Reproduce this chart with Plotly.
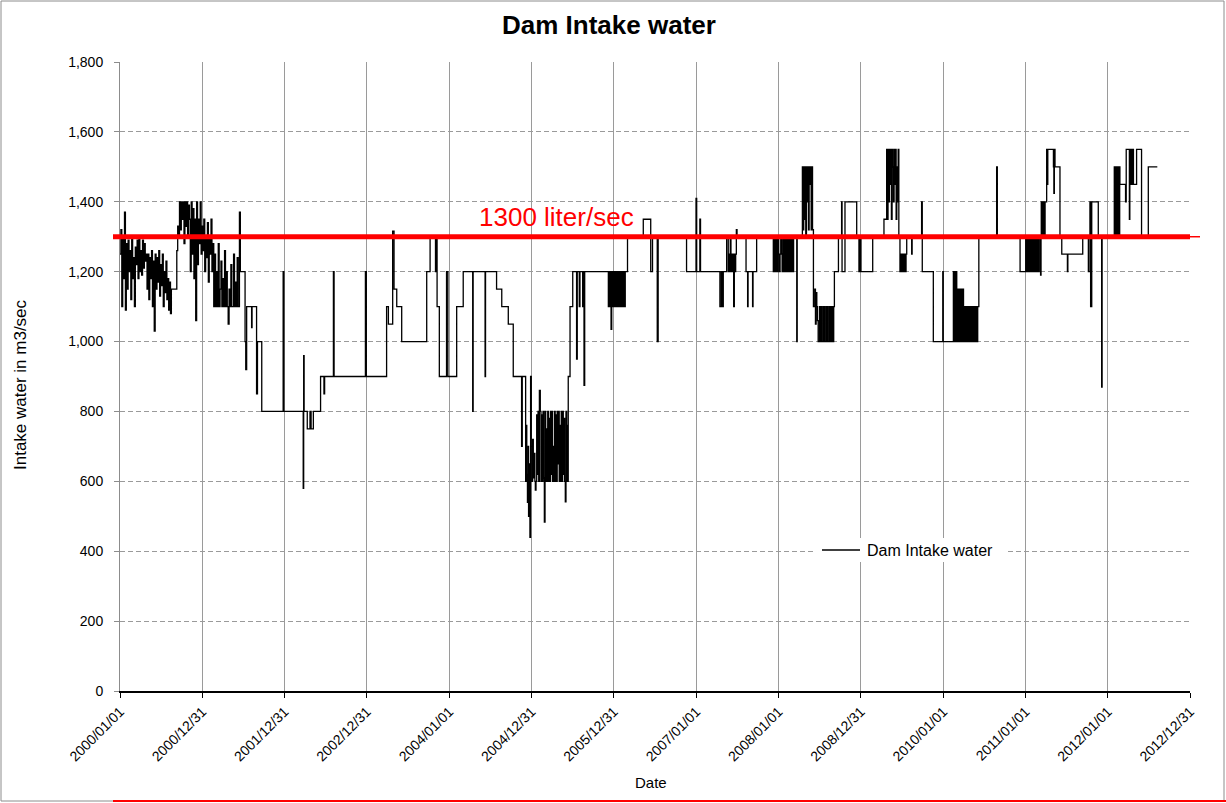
import plotly.graph_objects as go
import pandas as pd

start_date = "2000-01-01"
series_name = "Dam Intake water"
threshold_value = 1300
threshold_label = "1300 liter/sec"

# ---- stepwise levels: (day offset from start_date, m3/sec) ----
level_days = [228, 530, 534, 555, 558, 562, 584, 586, 606, 610, 629, 724, 727, 813, 815, 817,
              831, 843, 848, 858, 890, 905, 908, 947, 950, 1089, 1093, 1183, 1191, 1210, 1216,
              1228, 1250, 1361, 1376, 1400, 1403, 1407, 1417, 1449, 1455, 1494, 1523, 1565,
              1567, 1620, 1622, 1671, 1694, 1723, 1745,
              1782, 1785, 1800, 1803, 1805, 1808, 1811, 1813, 1816, 1819, 1822, 1825, 1828,
              1831, 1834, 1837, 1841, 1843, 1846, 1849, 1852, 1855, 1858, 1861,
              1989, 1997, 2009, 2026, 2029, 2038, 2041, 2053, 2055, 2059, 2062,
              2245, 2252, 2322, 2355, 2363, 2384, 2388, 2514, 2556, 2559, 2573, 2576, 2662,
              2668, 2672, 2677, 2692,
              2738, 2778, 2785, 2787, 2807, 2809, 2825,
              2992, 3003, 3005, 3077,
              3170, 3188, 3202, 3204, 3217, 3269, 3279, 3281, 3283, 3285, 3288, 3340, 3390,
              3491, 3513, 3515, 3557, 3560, 3609, 3651, 3653,
              3811, 3890, 3893, 3994,
              4082, 4085, 4087, 4105, 4112, 4115, 4117, 4142, 4144, 4146, 4149, 4171, 4179,
              4204, 4206, 4272, 4297, 4304, 4307, 4312, 4341, 4356, 4358,
              4437, 4462, 4465, 4479, 4481, 4484, 4487, 4490, 4494, 4497, 4511, 4533, 4563, 4603]
level_values = [1150, 1370, 1200, 1000, 920, 1100, 1040, 1100, 850, 1000, 800, 1200, 800, 580, 960, 800,
                750, 800, 750, 800, 900, 850, 900, 1200, 900, 1200, 900, 1100, 1050, 1316, 1150,
                1100, 1000, 1200, 1300, 1200, 1300, 1100, 900, 1200, 900, 1100, 1200, 800,
                1200, 900, 1200, 1150, 1100, 1050, 900,
                700, 900, 600, 760, 620, 540, 700, 500, 650, 440, 900, 700, 600,
                720, 610, 680, 600, 575, 600, 790, 620, 800, 600, 860,
                900, 1100, 1200, 950, 1200, 1100, 1200, 1100, 1200, 875, 1200,
                1200, 1300, 1350, 1200, 1300, 1000, 1300, 1200, 1410, 1200, 1350, 1200, 1100,
                1200, 1100, 1200, 1300,
                1300, 1200, 1100, 1200, 1100, 1200, 1300,
                1300, 1000, 1300, 1100,
                1200, 1300, 1400, 1200, 1400, 1300, 1200, 1300, 1200, 1300, 1200, 1300, 1350,
                1300, 1250, 1300, 1400, 1200, 1000, 1200, 1000,
                1300, 1500, 1300, 1200,
                1300, 1190, 1300, 1400, 1550, 1450, 1550, 1500, 1424, 1550, 1500, 1300, 1250,
                1200, 1250, 1300, 1200, 1400, 1100, 1400, 1300, 870, 1300,
                1450, 1400, 1550, 1350, 1550, 1450, 1550, 1450, 1550, 1450, 1550, 1300, 1500, 1500]

# ---- fluctuating periods: (first day, spacing in days, values) ----
noisy_2000a = [1250, 1320, 1100, 1300, 1180, 1370, 1090, 1280,
               1150, 1290, 1200, 1260, 1120, 1300, 1180, 1240, 1100, 1270, 1220,
               1290, 1180, 1300, 1200, 1260, 1190, 1290, 1210, 1280, 1230, 1250,
               1150, 1250, 1120, 1240, 1180, 1260, 1100, 1230, 1030,
               1250, 1150, 1240, 1170, 1260, 1130, 1220, 1160, 1250, 1100, 1200, 1140, 1230,
               1120, 1180, 1090, 1170, 1080]
noisy_2000b = [1260, 1330, 1300, 1400, 1320, 1400, 1350, 1400, 1280, 1400, 1330, 1400, 1300, 1390, 1350,
               1200, 1400, 1250, 1380, 1180, 1350, 1060, 1400, 1220, 1350, 1280, 1400, 1250,
               1330, 1260, 1350, 1200, 1300, 1240, 1340, 1170, 1300, 1250, 1350, 1200, 1280,
               1100, 1250, 1100, 1200, 1100, 1280, 1100, 1150, 1230, 1100, 1180, 1100, 1260, 1100,
               1200, 1100, 1050, 1150, 1100, 1220, 1100, 1100, 1250, 1100, 1170, 1100, 1240, 1100]
noisy_2005a = [800, 600, 790, 600, 800, 610, 483, 800, 600, 750, 600, 800, 600, 780, 600, 800,
               620, 800, 600, 700, 600, 800, 600, 790, 600, 800, 650, 800, 600, 760, 600, 800,
               600, 800, 620, 780, 600, 541, 800, 600, 760, 600]
noisy_2005b = [1100, 1200, 1100, 1200, 1035, 1200, 1100, 1200, 1100, 1200, 1100, 1200, 1100,
               1200, 1100, 1200, 1100, 1200, 1100, 1200, 1100, 1200, 1100, 1200, 1100, 1200]
noisy_2007a = [1200, 1250, 1200, 1300, 1200, 1250, 1200, 1250, 1100, 1250, 1200, 1250, 1320]
noisy_2008a = [1200, 1300, 1200, 1300, 1200, 1300, 1200, 1300, 1250, 1200, 1250, 1300, 1250, 1200,
               1300, 1200, 1300, 1200, 1300, 1200, 1300, 1200, 1300, 1200, 1300, 1200, 1300,
               1200, 1300, 1200, 1300]
noisy_2008b = [1300, 1500, 1320, 1500, 1350, 1500, 1300, 1500, 1400, 1500, 1320, 1500, 1450,
               1500, 1320, 1500, 1320]
noisy_2008c = [1100, 1150, 1050, 1140, 1100, 1060, 1000, 1000, 1100, 1000, 1100, 1000, 1000, 1100,
               1000, 1100, 1000, 1000, 1100, 1000, 1100, 1000, 1000, 1100, 1000, 1100, 1000,
               1100, 1000, 1100]
noisy_2009a = [1550, 1350, 1550, 1400, 1550, 1450, 1550, 1350, 1550, 1500, 1400, 1550, 1450,
               1550, 1350, 1500, 1400, 1550, 1300]
noisy_2009b = [1200, 1250, 1200, 1250, 1200, 1250, 1200, 1250, 1200, 1250]
noisy_2010a = [1000, 1200, 1000, 1200, 1000, 1200,
               1000, 1150, 1000, 1150, 1000, 1150, 1000, 1150, 1000, 1150,
               1000, 1100, 1000, 1100, 1000, 1100, 1000, 1100, 1000, 1100, 1000, 1100,
               1000, 1100, 1000, 1100, 1000, 1100, 1000, 1100, 1000, 1100, 1100]
noisy_2011a = [1200, 1300, 1200, 1300, 1200, 1300, 1200, 1300, 1200, 1300, 1200,
               1300, 1200, 1300, 1200, 1300, 1200, 1300, 1200, 1300, 1200, 1300]
noisy_2011b = [1400, 1300, 1400, 1300, 1400, 1300]
noisy_2012a = [1500, 1300, 1500, 1300, 1500, 1300, 1500, 1300, 1500]

noisy_periods = [
    (0, 4, noisy_2000a), (252, 4, noisy_2000b), (1865, 3, noisy_2005a), (2167, 3, noisy_2005b),
    (2699, 3, noisy_2007a), (2899, 3, noisy_2008a), (3025, 3, noisy_2008b), (3080, 3, noisy_2008c),
    (3402, 3, noisy_2009a), (3461, 3, noisy_2009b), (3695, 3, noisy_2010a), (4016, 3, noisy_2011a),
    (4088, 3, noisy_2011b), (4412, 3, noisy_2012a),
]

tick_dates = ["2000-01-01", "2000-12-31", "2001-12-31", "2002-12-31", "2004-01-01", "2004-12-31",
              "2005-12-31", "2007-01-01", "2008-01-01", "2008-12-31", "2010-01-01", "2011-01-01",
              "2012-01-01", "2012-12-31"]
tick_labels = [d.replace("-", "/") for d in tick_dates]

# ---- assemble ----
pairs = list(zip(level_days, level_values))
for first, spacing, vals in noisy_periods:
    pairs += [(first + spacing * i, v) for i, v in enumerate(vals)]
pairs.sort(key=lambda p: p[0])
base = pd.Timestamp(start_date)
dates = [base + pd.Timedelta(days=d) for d, _ in pairs]
values = [v for _, v in pairs]

FONT = "Liberation Sans, Arial, sans-serif"
fig = go.Figure()
fig.add_trace(go.Scatter(x=dates, y=values, mode="lines", line=dict(color="black", width=1.3, shape="hv"),
                         name=series_name, showlegend=False))


def px(xp):
    return (xp - 120) / 1070.0


def py(yp):
    return (691 - yp) / 629.0


shapes = [
    dict(type="rect", xref="paper", yref="paper", x0=px(1), x1=px(1224), y0=py(801), y1=py(1),
         line=dict(color="#8c8c8c", width=1), layer="below"),
    dict(type="line", xref="paper", yref="y", x0=px(113), x1=1.0, y0=threshold_value, y1=threshold_value,
         line=dict(color="#ff0000", width=5)),
    dict(type="line", xref="paper", yref="y", x0=1.0, x1=px(1200), y0=threshold_value, y1=threshold_value,
         line=dict(color="#ff0000", width=1.5)),
    dict(type="line", xref="paper", yref="paper", x0=px(113), x1=px(1226), y0=py(801), y1=py(801),
         line=dict(color="#ff0000", width=2)),
    # legend box (covers grid) and its line sample
    dict(type="rect", xref="paper", yref="paper", x0=px(815), x1=px(1005), y0=py(562), y1=py(538),
         line=dict(width=0), fillcolor="white", layer="above"),
    dict(type="line", xref="paper", yref="paper", x0=px(822), x1=px(860), y0=py(550), y1=py(550),
         line=dict(color="black", width=1.3), layer="above"),
]

annotations = [
    dict(text="<b>Dam Intake water</b>", xref="paper", yref="paper", x=px(609), y=py(25),
         xanchor="center", yanchor="middle", showarrow=False,
         font=dict(family=FONT, size=26, color="black")),
    dict(text=threshold_label, xref="paper", yref="paper", x=px(556), y=py(217),
         xanchor="center", yanchor="middle", showarrow=False,
         font=dict(family=FONT, size=26, color="#ff0000")),
    dict(text="Intake water in m3/sec", xref="paper", yref="paper", x=px(20), y=py(385),
         xanchor="center", yanchor="middle", textangle=-90, showarrow=False,
         font=dict(family=FONT, size=17, color="black")),
    dict(text="Date", xref="paper", yref="paper", x=px(651), y=py(782),
         xanchor="center", yanchor="middle", showarrow=False,
         font=dict(family=FONT, size=15, color="black")),
    dict(text=series_name, xref="paper", yref="paper", x=px(865), y=py(550),
         xanchor="left", yanchor="middle", showarrow=False,
         font=dict(family=FONT, size=16, color="black")),
]

fig.update_layout(
    width=1226, height=803,
    margin=dict(l=120, r=36, t=62, b=112),
    paper_bgcolor="white", plot_bgcolor="white",
    font=dict(family=FONT, color="black"),
    shapes=shapes, annotations=annotations, showlegend=False,
)
fig.update_xaxes(
    type="date", range=[pd.Timestamp("2000-01-01"), pd.Timestamp("2012-12-31")],
    tickvals=[pd.Timestamp(d) for d in tick_dates], ticktext=tick_labels, tickangle=-45,
    tickfont=dict(family=FONT, size=14), showgrid=True, gridcolor="#9a9a9a", gridwidth=1,
    showline=True, linecolor="black", linewidth=2, ticks="outside", ticklen=5, tickcolor="black",
    zeroline=False,
)
fig.update_yaxes(
    range=[0, 1800], dtick=200, tickformat=",", tickfont=dict(family=FONT, size=14),
    showgrid=True, gridcolor="#9a9a9a", gridwidth=1, griddash="5px,3px",
    showline=True, linecolor="#8c8c8c", linewidth=1, ticks="outside", ticklen=5, tickcolor="#8c8c8c",
    ticklabelstandoff=8, zeroline=False,
)
fig.write_html("out.html", config={"displayModeBar": False},
               post_script="document.body.style.margin='0';document.body.style.overflow='hidden';")
